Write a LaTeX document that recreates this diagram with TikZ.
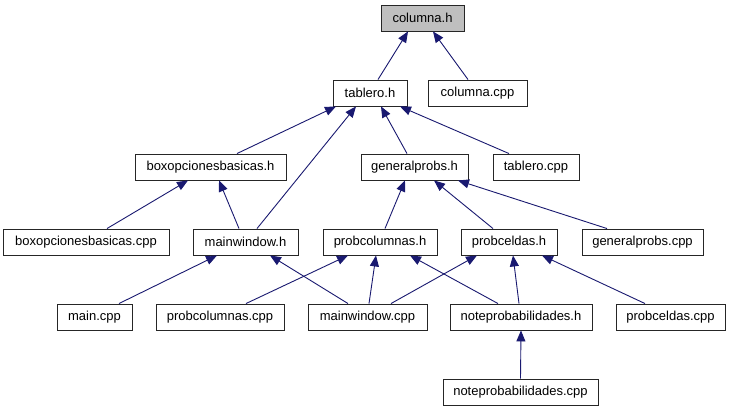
\documentclass[tikz,border=0pt]{standalone}
\usepackage{fontspec}
\setmainfont{Liberation Sans}
\usetikzlibrary{arrows.meta}
\definecolor{edgeblue}{HTML}{191970}
\definecolor{rootgray}{HTML}{BFBFBF}
\begin{document}
\begin{tikzpicture}[x=1pt,y=-1pt,
  box/.style={draw=black!85,line width=0.9pt,fill=white,minimum height=26pt,inner sep=0pt,font=\fontsize{13}{15}\selectfont},
  edge/.style={draw=edgeblue,line width=0.9pt,-{Triangle[length=11pt,width=9pt]},shorten >=0pt}]
\fill[white] (0,0) rectangle (732,411);
\useasboundingbox (0,0) rectangle (732,411);
% row 1
\node[box,fill=rootgray,minimum width=83pt] (col) at (422.5,18) {columna.h};
% row 2
\node[box,minimum width=74pt] (tab) at (370,93) {tablero.h};
\node[box,minimum width=99pt] (colcpp) at (477.5,93) {columna.cpp};
% row 3
\node[box,minimum width=151pt] (boxh) at (210.5,167) {boxopcionesbasicas.h};
\node[box,minimum width=107pt] (gph) at (414.5,167) {generalprobs.h};
\node[box,minimum width=86pt] (tabcpp) at (536,167) {tablero.cpp};
% row 4
\node[box,minimum width=166pt] (boxcpp) at (86,242) {boxopcionesbasicas.cpp};
\node[box,minimum width=105pt] (mwh) at (245.5,242) {mainwindow.h};
\node[box,minimum width=114pt] (pch) at (380,242) {probcolumnas.h};
\node[box,minimum width=96pt] (pceh) at (509,242) {probceldas.h};
\node[box,minimum width=121pt] (gpcpp) at (642.5,242) {generalprobs.cpp};
% row 5
\node[box,minimum width=75pt] (maincpp) at (94.5,317) {main.cpp};
\node[box,minimum width=128pt] (pccpp) at (220,317) {probcolumnas.cpp};
\node[box,minimum width=119pt] (mwcpp) at (367.5,317) {mainwindow.cpp};
\node[box,minimum width=142pt] (nph) at (521,317) {noteprobabilidades.h};
\node[box,minimum width=109pt] (pcecpp) at (670.5,317) {probceldas.cpp};
% row 6
\node[box,minimum width=155pt] (npcpp) at (520.5,392) {noteprobabilidades.cpp};
% edges
\draw[edge] ([xshift=8pt]tab.north) -- ([xshift=-14.5pt]col.south);
\draw[edge] ([xshift=-9.5pt]colcpp.north) -- ([xshift=10.5pt]col.south);
\draw[edge] ([xshift=26.5pt]boxh.north) -- ([xshift=-34pt]tab.south);
\draw[edge] ([xshift=11.5pt]mwh.north) -- ([xshift=-14pt]tab.south);
\draw[edge] ([xshift=-7.5pt]gph.north) -- ([xshift=11pt]tab.south);
\draw[edge] ([xshift=-27pt]tabcpp.north) -- ([xshift=30pt]tab.south);
\draw[edge] ([xshift=21pt]boxcpp.north) -- ([xshift=-22.5pt]boxh.south);
\draw[edge] ([xshift=-6.5pt]mwh.north) -- ([xshift=8.5pt]boxh.south);
\draw[edge] ([xshift=5pt]pch.north) -- ([xshift=-9.5pt]gph.south);
\draw[edge] ([xshift=-16pt]pceh.north) -- ([xshift=19.5pt]gph.south);
\draw[edge] ([xshift=-35.5pt]gpcpp.north) -- ([xshift=43.5pt]gph.south);
\draw[edge] ([xshift=24.5pt]maincpp.north) -- ([xshift=-28.5pt]mwh.south);
\draw[edge] ([xshift=-19.5pt]mwcpp.north) -- ([xshift=24.5pt]mwh.south);
\draw[edge] ([xshift=26pt]pccpp.north) -- ([xshift=-32pt]pch.south);
\draw[edge] ([xshift=1.5pt]mwcpp.north) -- ([xshift=-4pt]pch.south);
\draw[edge] ([xshift=-23pt]nph.north) -- ([xshift=30pt]pch.south);
\draw[edge] ([xshift=23.5pt]mwcpp.north) -- ([xshift=-32pt]pceh.south);
\draw[edge] ([xshift=-2pt]nph.north) -- ([xshift=4pt]pceh.south);
\draw[edge] ([xshift=-25.5pt]pcecpp.north) -- ([xshift=33pt]pceh.south);
\draw[edge] (npcpp.north) -- (nph.south);
\end{tikzpicture}
\end{document}
